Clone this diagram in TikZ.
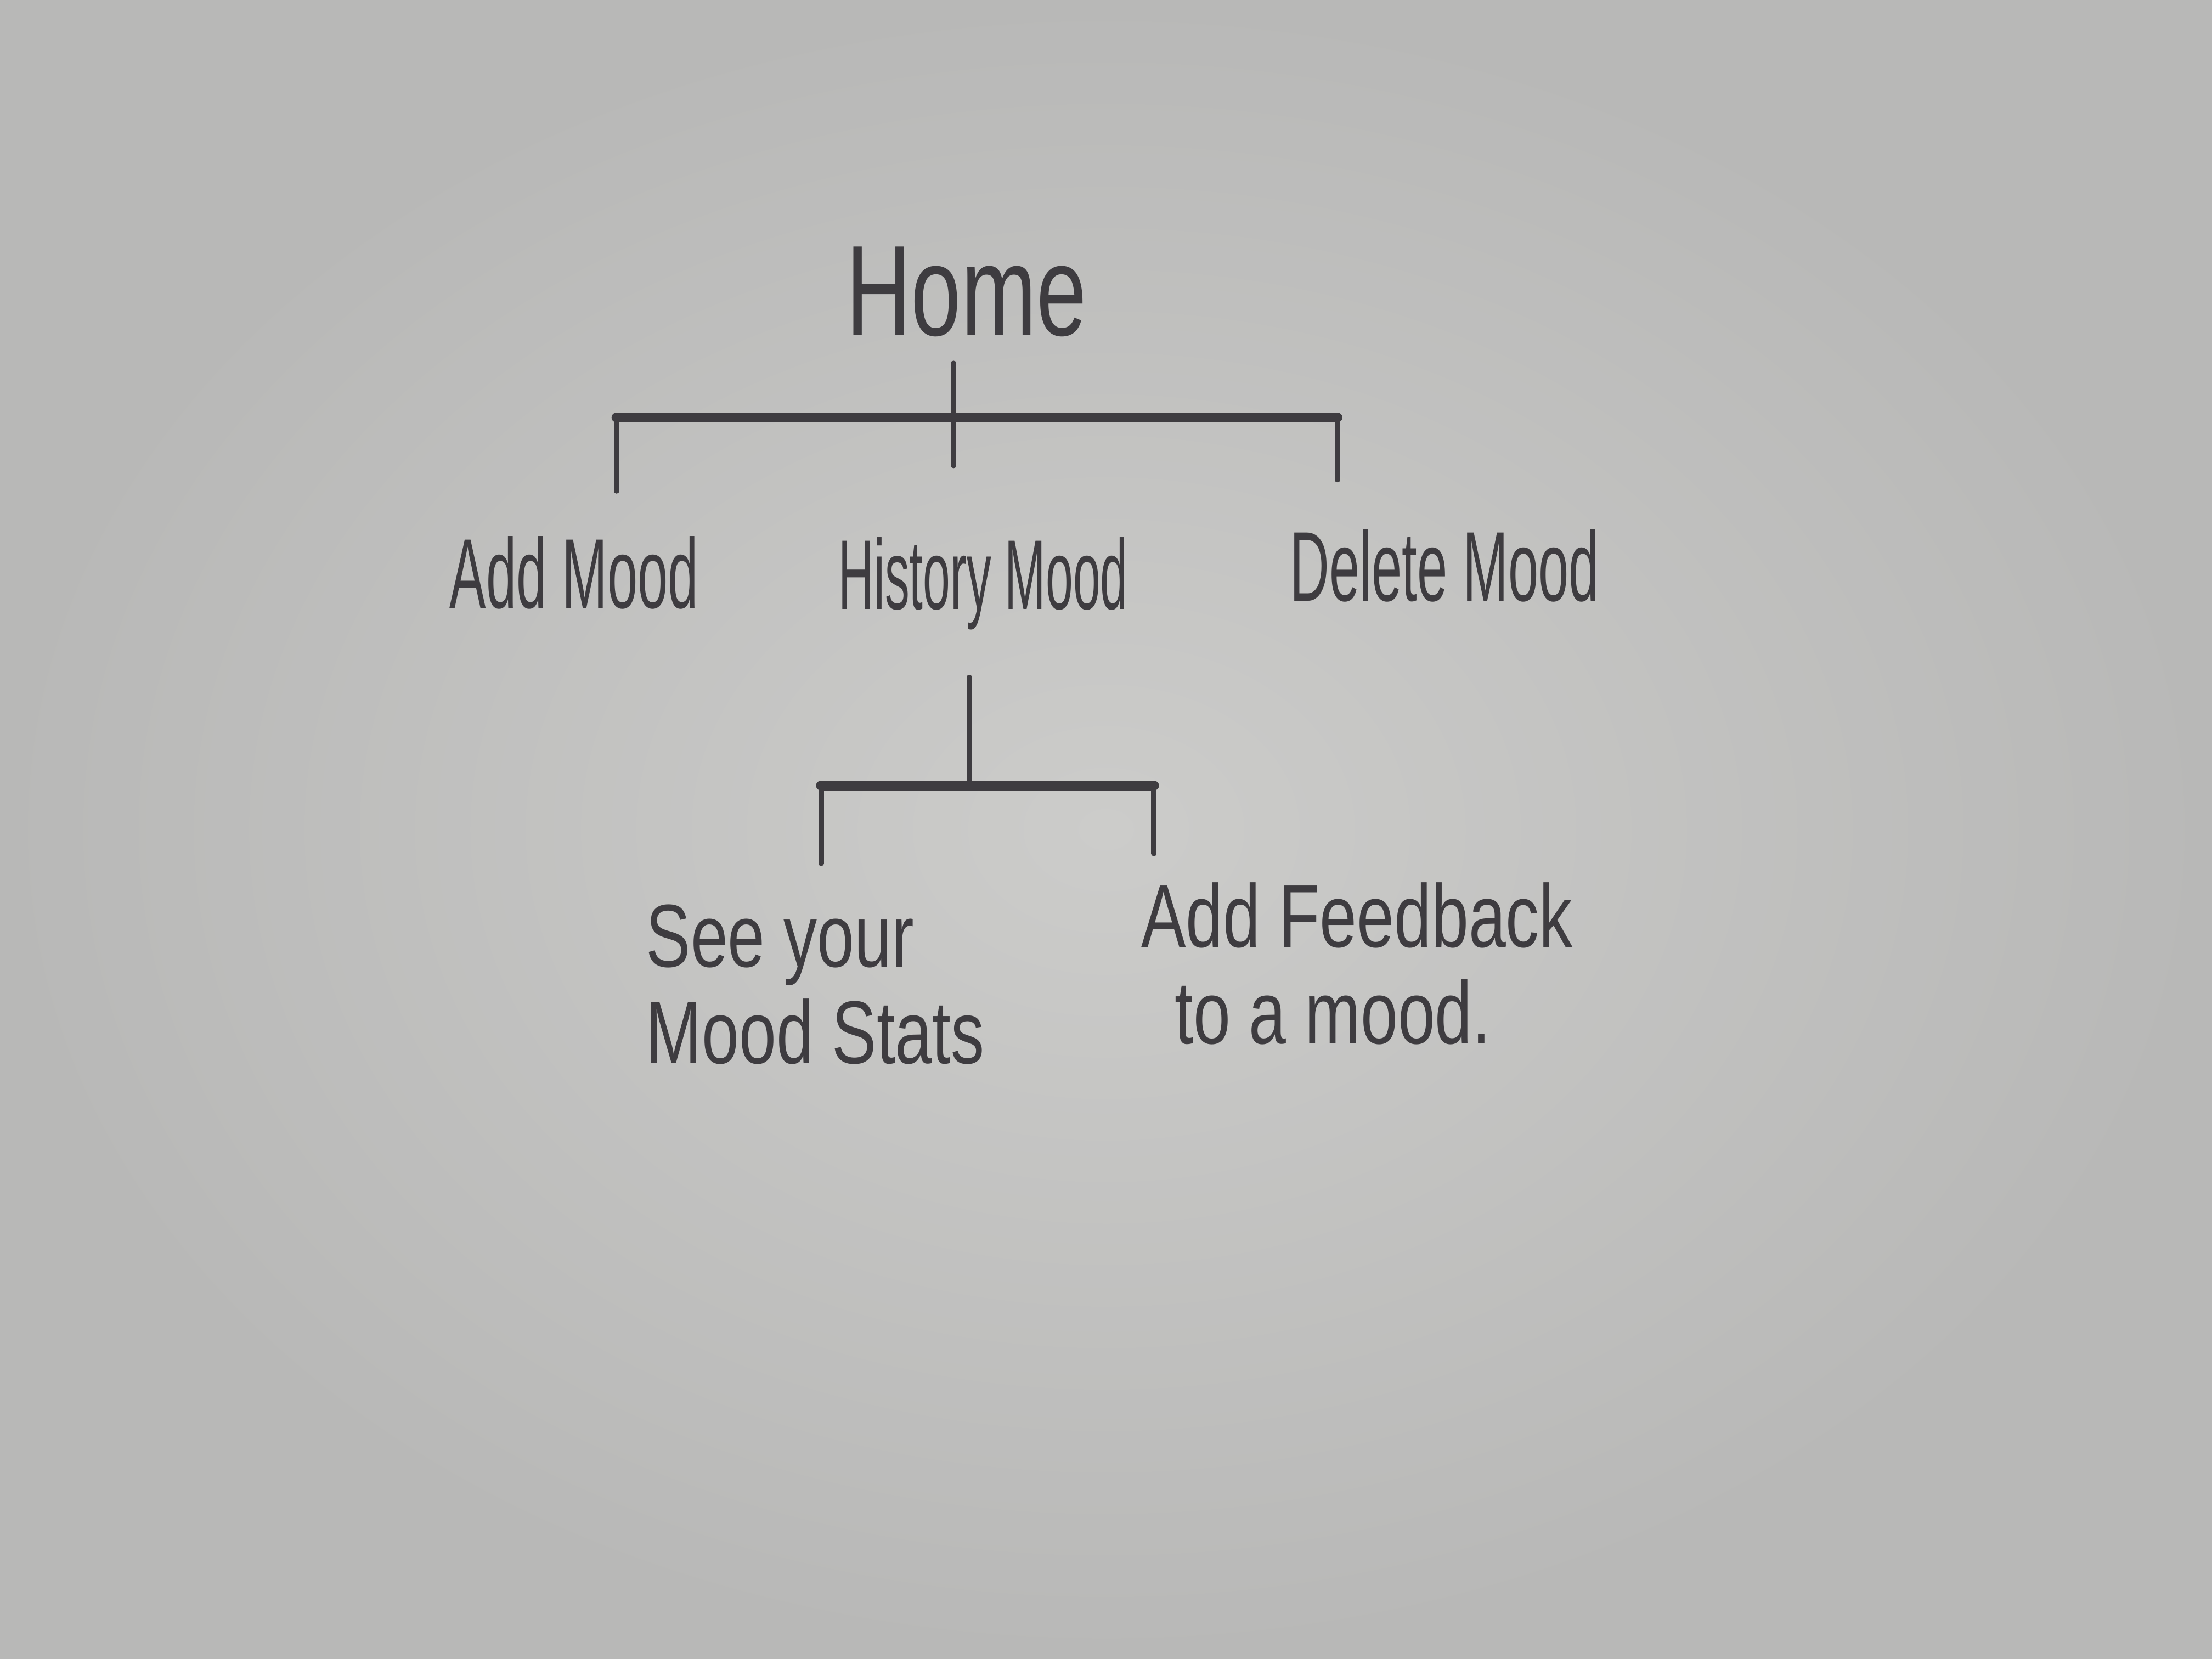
\documentclass[tikz,border=0pt]{standalone}
\usepackage{fontspec}
\setmainfont{Liberation Sans}
\definecolor{ink}{RGB}{62,60,64}
\definecolor{paperin}{RGB}{204,204,202}
\definecolor{paperout}{RGB}{184,184,183}

\begin{document}
\begin{tikzpicture}[
	lbl/.style = {text = ink, inner sep = 0pt},
	toplbl/.style = {lbl, font = \fontsize{26}{28}\selectfont, xscale = 0.7},
	midlbl/.style = {lbl, font = \fontsize{20}{22}\selectfont, xscale = 0.55},
	lowlbl/.style = {lbl, font = \fontsize{18}{19.5}\selectfont, xscale = 0.75, align = left},
	stem/.style = {draw = ink, line width = 1.1pt, line cap = round},
	bar/.style = {draw = ink, line width = 2pt, line cap = round}]
	\shade [inner color = paperin, outer color = paperout] (0,0) rectangle (15.68,11.76);
	\useasboundingbox (0,0) rectangle (15.68,11.76);
	% labels
	\node [toplbl, anchor = base] (home) at (6.85,9.38) {Home};
	\node [midlbl, anchor = base] (addmood) at (4.07,7.45) {Add Mood};
	\node [midlbl, anchor = base, xscale = 0.9] (history) at (6.97,7.44) {History Mood};
	\node [midlbl, anchor = base] (delete) at (10.24,7.50) {Delete Mood};
	\node [lowlbl] (stats) at (5.78,4.78) {See your\\Mood Stats};
	\node [lowlbl] (feedback) at (9.62,4.93) {Add Feedback\\\hspace{0.5em}to a mood.};
	% first level
	\coordinate (j1) at (6.76,8.80);
	\coordinate (a1) at (4.37,8.28);
	\coordinate (d1) at (9.48,8.36);
	\draw [stem] (home.south -| j1) ++(0,-0.18) -- (6.76,8.46);
	\draw [bar] (a1 |- j1) -- (d1 |- j1);
	\draw [stem] (a1 |- j1) -- (a1);
	\draw [stem] (d1 |- j1) -- (d1);
	% second level
	\coordinate (j2) at (6.87,6.19);
	\coordinate (s1) at (5.82,5.64);
	\coordinate (f1) at (8.18,5.71);
	\draw [stem] (history.south -| j2) ++(0,-0.33) -- (j2);
	\draw [bar] (s1 |- j2) -- (f1 |- j2);
	\draw [stem] (s1 |- j2) -- (s1);
	\draw [stem] (f1 |- j2) -- (f1);
\end{tikzpicture}
\end{document}
